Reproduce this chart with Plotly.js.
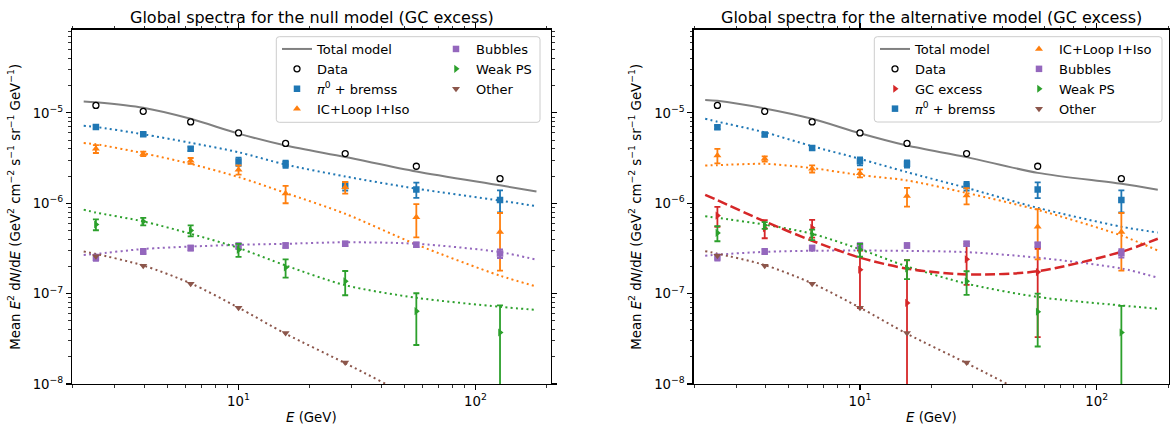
<!DOCTYPE html>
<html>
<head>
<meta charset="utf-8">
<script src="https://cdn.plot.ly/plotly-3.0.1.min.js"></script>
<style>html,body{margin:0;padding:0;background:#fff;}#chart{width:1170px;height:427px;}</style>
</head>
<body>
<div id="chart"></div>
<script>
// ---------- data ----------
const energy = [2.5, 3.96, 6.28, 10.0, 15.8, 28.2, 56.3, 127];
const energyModel = [2.22, 2.5, 3.96, 6.28, 10.0, 15.8, 28.2, 56.3, 127, 181];

// null model (left)
const nullTotal  = [1.34e-5, 1.31e-5, 1.14e-5, 8.6e-6, 5.9e-6, 4.35e-6, 3.25e-6, 2.25e-6, 1.58e-6, 1.35e-6];
const nullPi0    = [7.2e-6, 7.0e-6, 5.8e-6, 4.67e-6, 3.67e-6, 2.68e-6, 1.98e-6, 1.45e-6, 1.07e-6, 9.3e-7];
const nullIC     = [4.65e-6, 4.5e-6, 3.58e-6, 2.73e-6, 1.95e-6, 1.3e-6, 7.65e-7, 3.5e-7, 1.58e-7, 1.2e-7];
const nullBub    = [2.68e-7, 2.75e-7, 3.12e-7, 3.32e-7, 3.47e-7, 3.56e-7, 3.7e-7, 3.56e-7, 2.88e-7, 2.37e-7];
const nullWPS    = [8.5e-7, 7.9e-7, 6.3e-7, 4.6e-7, 3.2e-7, 2.05e-7, 1.24e-7, 9.0e-8, 7.15e-8, 6.6e-8];
const nullOther  = [2.93e-7, 2.75e-7, 2.05e-7, 1.3e-7, 7.0e-8, 3.6e-8, 1.7e-8, 6.7e-9, 2.2e-9, 1.37e-9];

// alternative model (right)
const altTotal   = [1.39e-5, 1.36e-5, 1.12e-5, 8.6e-6, 5.95e-6, 4.35e-6, 3.24e-6, 2.17e-6, 1.64e-6, 1.41e-6];
const altGC      = [1.24e-6, 1.08e-6, 6.3e-7, 3.85e-7, 2.5e-7, 1.89e-7, 1.63e-7, 1.77e-7, 2.9e-7, 4.05e-7];
const altPi0     = [8.6e-6, 8.0e-6, 6.1e-6, 4.28e-6, 3.1e-6, 2.21e-6, 1.48e-6, 8.9e-7, 5.5e-7, 4.75e-7];
const altIC      = [2.62e-6, 2.64e-6, 2.73e-6, 2.45e-6, 2.05e-6, 1.79e-6, 1.3e-6, 8.45e-7, 4.4e-7, 3.0e-7];
const altBub     = [2.62e-7, 2.7e-7, 2.9e-7, 2.98e-7, 3.0e-7, 2.97e-7, 2.88e-7, 2.5e-7, 1.9e-7, 1.5e-7];
const altWPS     = [7.2e-7, 6.9e-7, 5.8e-7, 4.6e-7, 3.1e-7, 2.0e-7, 1.29e-7, 9.2e-8, 7.4e-8, 6.8e-8];
const altOther   = [2.95e-7, 2.77e-7, 2.07e-7, 1.3e-7, 7.0e-8, 3.6e-8, 1.7e-8, 6.7e-9, 2.2e-9, 1.37e-9];

// measured points
const dataFlux   = [1.21e-5, 1.04e-5, 7.95e-6, 6.0e-6, 4.6e-6, 3.55e-6, 2.57e-6, 1.87e-6];

const nullPi0Pts = [7.0e-6, 5.8e-6, 4.0e-6, 2.9e-6, 2.72e-6, 1.55e-6, 1.42e-6, 1.09e-6];
const nullPi0Err = [3.0e-7, 2.5e-7, 2.0e-7, 3.0e-7, 2.5e-7, 1.7e-7, 2.7e-7, 3.0e-7];
const nullICPts  = [4.0e-6, 3.52e-6, 2.95e-6, 2.35e-6, 1.28e-6, 1.5e-6, 7.0e-7, 4.8e-7];
const nullICErr  = [4.0e-7, 2.0e-7, 2.2e-7, 2.7e-7, 2.8e-7, 2.2e-7, 2.8e-7, 3.0e-7];
const nullBubPts = [2.5e-7, 2.93e-7, 3.19e-7, 3.36e-7, 3.42e-7, 3.56e-7, 3.47e-7, 2.78e-7];
const nullBubErr = [2.0e-8, 2.0e-8, 2.0e-8, 2.5e-8, 2.0e-8, 2.0e-8, 2.0e-8, 3.0e-8];
const nullWPSPts = [5.83e-7, 6.3e-7, 5.0e-7, 3.05e-7, 1.95e-7, 1.37e-7, 6.4e-8, 3.72e-8];
const nullWPSErr = [8.0e-8, 6.0e-8, 7.0e-8, 5.0e-8, 4.5e-8, 4.1e-8, 3.7e-8, 3.7e-8];
const nullOthPts = [2.6e-7, 2.04e-7, 1.29e-7, 7.0e-8, 3.67e-8, 1.73e-8, null, null];

const altGCPts   = [7.3e-7, 5.3e-7, 5.36e-7, 1.84e-7, 7.9e-8, 2.4e-7, 1.73e-7, null];
const altGCErr   = [1.8e-7, 1.2e-7, 1.2e-7, 1.15e-7, 1.55e-7, 1.15e-7, 1.4e-7, null];
const altPi0Pts  = [6.93e-6, 5.75e-6, 4.1e-6, 2.92e-6, 2.73e-6, 1.55e-6, 1.42e-6, 1.09e-6];
const altPi0Err  = [3.0e-7, 2.5e-7, 2.0e-7, 3.0e-7, 2.5e-7, 1.7e-7, 2.8e-7, 3.0e-7];
const altICPts   = [3.38e-6, 3.1e-6, 2.41e-6, 2.15e-6, 1.2e-6, 1.22e-6, 5.5e-7, 4.8e-7];
const altICErr   = [6.2e-7, 2.0e-7, 2.2e-7, 2.2e-7, 2.8e-7, 2.5e-7, 3.1e-7, 3.0e-7];
const altBubPts  = [2.52e-7, 2.93e-7, 3.19e-7, 3.36e-7, 3.42e-7, 3.56e-7, 3.47e-7, 2.8e-7];
const altBubErr  = [2.0e-8, 2.0e-8, 2.0e-8, 2.5e-8, 2.0e-8, 2.0e-8, 2.0e-8, 3.0e-8];
const altWPSPts  = [4.7e-7, 5.7e-7, 4.5e-7, 3.06e-7, 1.9e-7, 1.37e-7, 6.3e-8, 3.72e-8];
const altWPSErr  = [9.0e-8, 5.0e-8, 6.0e-8, 5.0e-8, 4.5e-8, 4.0e-8, 3.7e-8, 3.6e-8];
const altOthPts  = [2.63e-7, 2.04e-7, 1.29e-7, 7.0e-8, 3.67e-8, 1.73e-8, null, null];

const names = {
  total: 'Total model', data: 'Data', gc: 'GC excess',
  pi0: '<i>π</i><sup>0</sup> + bremss', ic: 'IC+Loop I+Iso',
  bub: 'Bubbles', wps: 'Weak PS', other: 'Other'
};
const xTickVals = [10, 100];
const xTickText = ['10<sup>1</sup>', '10<sup>2</sup>'];
const yTickVals = [1e-8, 1e-7, 1e-6, 1e-5];
const yTickText = ['10<sup>−8</sup>', '10<sup>−7</sup>', '10<sup>−6</sup>', '10<sup>−5</sup>'];
const titles = ['Global spectra for the null model (GC excess)', 'Global spectra for the alternative model (GC excess)'];

// ---------- styling ----------
const C = {blue:'#1f77b4', orange:'#ff7f0e', green:'#2ca02c', red:'#d62728', purple:'#9467bd', brown:'#8c564b', gray:'#808080'};
const FONT = 'DejaVu Sans, Verdana, sans-serif';
const W = 1170, H = 427;
const dotted = '2px,3.3px';

function modelLine(y, color, xa, ya, dash, width) {
  return {x: energyModel, y: y, xaxis: xa, yaxis: ya, type: 'scatter', mode: 'lines',
    line: {color: color, width: width || 2, dash: dash || dotted, shape: 'spline', smoothing: 0.8},
    showlegend: false, hoverinfo: 'skip'};
}
function points(name, y, err, color, symbol, size, xa, ya, legend) {
  const t = {x: energy, y: y, xaxis: xa, yaxis: ya, type: 'scatter', mode: 'markers', name: name,
    marker: {color: color, symbol: symbol, size: size},
    legend: legend, hoverinfo: 'skip'};
  if (err) t.error_y = {type: 'data', array: err, symmetric: true, color: color, thickness: 1.8, width: 3};
  return t;
}
function totalLine(y, xa, ya, legend) {
  return {x: energyModel, y: y, xaxis: xa, yaxis: ya, type: 'scatter', mode: 'lines', name: names.total,
    line: {color: C.gray, width: 2, shape: 'spline', smoothing: 0.8}, legend: legend, hoverinfo: 'skip'};
}
function dataPts(xa, ya, legend) {
  return {x: energy, y: dataFlux, xaxis: xa, yaxis: ya, type: 'scatter', mode: 'markers', name: names.data,
    marker: {color: '#ffffff', symbol: 'circle', size: 6, line: {color: '#000', width: 1.3}},
    legend: legend, hoverinfo: 'skip'};
}

const traces = [
  // left panel lines
  modelLine(nullPi0, C.blue, 'x', 'y'),
  modelLine(nullIC, C.orange, 'x', 'y'),
  modelLine(nullBub, C.purple, 'x', 'y'),
  modelLine(nullWPS, C.green, 'x', 'y'),
  modelLine(nullOther, C.brown, 'x', 'y'),
  totalLine(nullTotal, 'x', 'y', 'legend'),
  dataPts('x', 'y', 'legend'),
  points(names.pi0, nullPi0Pts, nullPi0Err, C.blue, 'square', 6.5, 'x', 'y', 'legend'),
  points(names.ic, nullICPts, nullICErr, C.orange, 'triangle-up', 7, 'x', 'y', 'legend'),
  points(names.bub, nullBubPts, nullBubErr, C.purple, 'square', 6.5, 'x', 'y', 'legend2'),
  points(names.wps, nullWPSPts, nullWPSErr, C.green, 'triangle-right', 7, 'x', 'y', 'legend2'),
  points(names.other, nullOthPts, null, C.brown, 'triangle-down', 7, 'x', 'y', 'legend2'),
  // right panel lines
  modelLine(altPi0, C.blue, 'x2', 'y2'),
  modelLine(altIC, C.orange, 'x2', 'y2'),
  modelLine(altBub, C.purple, 'x2', 'y2'),
  modelLine(altWPS, C.green, 'x2', 'y2'),
  modelLine(altOther, C.brown, 'x2', 'y2'),
  modelLine(altGC, C.red, 'x2', 'y2', '10px,4px', 2.5),
  totalLine(altTotal, 'x2', 'y2', 'legend3'),
  dataPts('x2', 'y2', 'legend3'),
  points(names.gc, altGCPts, altGCErr, C.red, 'triangle-right', 7, 'x2', 'y2', 'legend3'),
  points(names.pi0, altPi0Pts, altPi0Err, C.blue, 'square', 6.5, 'x2', 'y2', 'legend3'),
  points(names.ic, altICPts, altICErr, C.orange, 'triangle-up', 7, 'x2', 'y2', 'legend4'),
  points(names.bub, altBubPts, altBubErr, C.purple, 'square', 6.5, 'x2', 'y2', 'legend4'),
  points(names.wps, altWPSPts, altWPSErr, C.green, 'triangle-right', 7, 'x2', 'y2', 'legend4'),
  points(names.other, altOthPts, null, C.brown, 'triangle-down', 7, 'x2', 'y2', 'legend4')
];

// minor tick positions
const xMinor = [];
[1, 10, 100].forEach(d => { for (let k = 2; k <= 9; k++) xMinor.push(k * d); });
const yMinor = [];
[1e-8, 1e-7, 1e-6, 1e-5].forEach(d => { for (let k = 2; k <= 9; k++) yMinor.push(k * d); });

const tickFont = {family: FONT, size: 13.3, color: '#000'};
function xAxis(dom, range, anchor) {
  return {type: 'log', domain: dom, range: range, anchor: anchor,
    tickmode: 'array', tickvals: xTickVals, ticktext: xTickText, tickfont: tickFont,
    ticks: 'outside', ticklen: 5, tickwidth: 1.07, tickcolor: '#000',
    showline: true, linecolor: '#000', linewidth: 1.07, mirror: 'ticks',
    showgrid: false, zeroline: false,
    minor: {tickmode: 'array', tickvals: xMinor, ticks: 'outside', ticklen: 2.7, tickwidth: 0.8, tickcolor: '#000', showgrid: false}};
}
function yAxis(anchor) {
  return {type: 'log', domain: [(H - 384) / H, (H - 29.5) / H], range: [-8, -4.077], anchor: anchor,
    tickmode: 'array', tickvals: yTickVals, ticktext: yTickText, tickfont: tickFont,
    ticks: 'outside', ticklen: 5, tickwidth: 1.07, tickcolor: '#000',
    showline: true, linecolor: '#000', linewidth: 1.07, mirror: 'ticks',
    showgrid: false, zeroline: false,
    minor: {tickmode: 'array', tickvals: yMinor, ticks: 'outside', ticklen: 2.7, tickwidth: 0.8, tickcolor: '#000', showgrid: false}};
}

const L = [72, 551], R = [693.5, 1169];
function px(v) { return v / W; }
function py(v) { return 1 - v / H; }
function legendAt(xpx, ypx) {
  return {x: px(xpx), y: py(ypx), xanchor: 'left', yanchor: 'top', bgcolor: 'rgba(0,0,0,0)',
    borderwidth: 0, font: {family: FONT, size: 13, color: '#000'}, tracegroupgap: 0, itemclick: false};
}
function roundRect(x0, y0, x1, y1, r) {
  const rx = r / W, ry = r / H;
  const X0 = px(x0), X1 = px(x1), Y0 = py(y1), Y1 = py(y0); // Y1 top
  return `M${X0 + rx},${Y1} L${X1 - rx},${Y1} Q${X1},${Y1} ${X1},${Y1 - ry} L${X1},${Y0 + ry} Q${X1},${Y0} ${X1 - rx},${Y0} L${X0 + rx},${Y0} Q${X0},${Y0} ${X0},${Y0 + ry} L${X0},${Y1 - ry} Q${X0},${Y1} ${X0 + rx},${Y1} Z`;
}

const yTitle = 'Mean <i>E</i><sup>2</sup> d<i>N</i>/d<i>E</i> (GeV<sup>2</sup> cm<sup>−2</sup> s<sup>−1</sup> sr<sup>−1</sup> GeV<sup>−1</sup>)';
const xTitle = '<i>E</i> (GeV)';
const plotMid = (H - 384 + H - 29.5) / 2 / H;

const layout = {
  width: W, height: H, margin: {l: 0, r: 0, t: 0, b: 0},
  paper_bgcolor: '#fff', plot_bgcolor: '#fff',
  font: {family: FONT, size: 13.3, color: '#000'},
  xaxis: xAxis([px(L[0]), px(L[1])], [0.297, 2.319], 'y'),
  yaxis: yAxis('x'),
  xaxis2: xAxis([px(R[0]), px(R[1])], [0.297, 2.305], 'y2'),
  yaxis2: yAxis('x2'),
  legend: legendAt(277, 34),
  legend2: legendAt(436, 34),
  legend3: legendAt(875, 34),
  legend4: legendAt(1019, 34),
  shapes: [
    {type: 'path', xref: 'paper', yref: 'paper', path: roundRect(276.3, 36.7, 540, 122.3, 3), layer: 'above',
      fillcolor: 'rgba(255,255,255,0.8)', line: {color: '#cccccc', width: 1}},
    {type: 'path', xref: 'paper', yref: 'paper', path: roundRect(874.3, 36.7, 1162, 122, 3), layer: 'above',
      fillcolor: 'rgba(255,255,255,0.8)', line: {color: '#cccccc', width: 1}}
  ],
  annotations: [
    {text: titles[0], xref: 'paper', yref: 'paper', x: px((L[0] + L[1]) / 2), y: py(17), xanchor: 'center', yanchor: 'middle', showarrow: false, font: {family: FONT, size: 16, color: '#000'}},
    {text: titles[1], xref: 'paper', yref: 'paper', x: px((R[0] + R[1]) / 2), y: py(17), xanchor: 'center', yanchor: 'middle', showarrow: false, font: {family: FONT, size: 16, color: '#000'}},
    {text: xTitle, xref: 'paper', yref: 'paper', x: px((L[0] + L[1]) / 2), y: py(417), xanchor: 'center', yanchor: 'middle', showarrow: false, font: {family: FONT, size: 13.3, color: '#000'}},
    {text: xTitle, xref: 'paper', yref: 'paper', x: px((R[0] + R[1]) / 2), y: py(417), xanchor: 'center', yanchor: 'middle', showarrow: false, font: {family: FONT, size: 13.3, color: '#000'}},
    {text: yTitle, xref: 'paper', yref: 'paper', x: px(14), y: plotMid, xanchor: 'center', yanchor: 'middle', textangle: -90, showarrow: false, font: {family: FONT, size: 13.3, color: '#000'}},
    {text: yTitle, xref: 'paper', yref: 'paper', x: px(635), y: plotMid, xanchor: 'center', yanchor: 'middle', textangle: -90, showarrow: false, font: {family: FONT, size: 13.3, color: '#000'}}
  ],
  hovermode: false
};

Plotly.newPlot('chart', traces, layout, {displayModeBar: false, staticPlot: true});
</script>
</body>
</html>
